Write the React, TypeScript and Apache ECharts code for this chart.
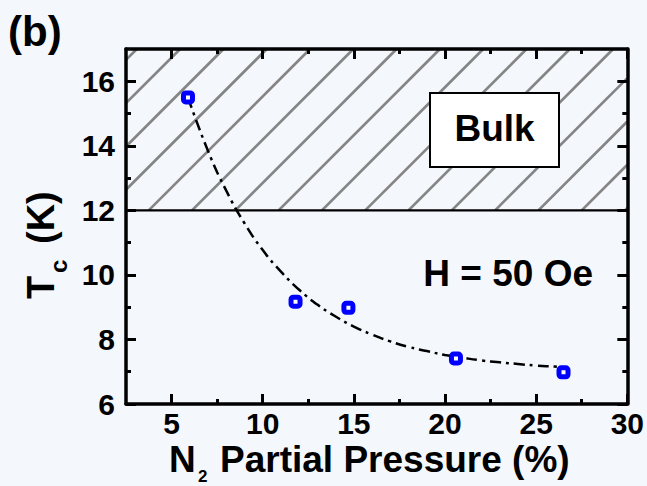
import React, { useEffect, useRef } from "react";
import * as echarts from "echarts";

// ---- data ----
const pressure = [5.9, 11.8, 14.7, 20.6, 26.5]; // N2 partial pressure (%)
const tc = [15.5, 9.17, 8.98, 7.41, 6.98]; // Tc (K)

// dash-dot guide curve
const fitX = [5.9, 7, 8, 9, 10, 11, 12, 13, 14, 15, 16, 17, 18, 19, 20, 21, 22, 23, 24, 25, 26, 26.5];
const fitY = [15.5, 13.84, 12.61, 11.6, 10.77, 10.1, 9.54, 9.08, 8.71, 8.4, 8.15, 7.94, 7.77, 7.64, 7.52, 7.43, 7.35, 7.29, 7.24, 7.19, 7.16, 7.14];

const xRange = [2.5, 30];
const yRange = [6, 17];
const xTicksMajor = [5, 10, 15, 20, 25, 30];
const xTicksMinor = [7.5, 12.5, 17.5, 22.5, 27.5];
const yTicksMajor = [6, 8, 10, 12, 14, 16];
const yTicksMinor = [7, 9, 11, 13, 15];
const bulkTc = 12; // bulk region starts here

const FONT = "'Liberation Sans', Arial, Helvetica, sans-serif";
const BG = "#f4f7fc";

export default function App() {
  const ref = useRef<HTMLDivElement>(null);

  useEffect(() => {
    if (!ref.current) return;
    const chart = echarts.init(ref.current, null, { renderer: "svg" });

    const axisLine = { show: true, onZero: false, lineStyle: { color: "#000", width: 3.5 } };
    const labelStyle = { color: "#000", fontSize: 30, fontWeight: "bold" as const, fontFamily: FONT };

    const mkX = (pos: "bottom" | "top", ticks: number[], len: number, labels: boolean, line: boolean) => ({
      type: "value",
      min: xRange[0],
      max: xRange[1],
      position: pos,
      z: 10,
      axisLine: line ? axisLine : { show: false },
      axisTick: { show: true, inside: true, length: len, customValues: ticks, lineStyle: { color: "#000", width: 3 } },
      axisLabel: labels ? { show: true, margin: 4, customValues: ticks, ...labelStyle } : { show: false },
      splitLine: { show: false },
    });
    const mkY = (pos: "left" | "right", ticks: number[], len: number, labels: boolean, line: boolean) => ({
      type: "value",
      min: yRange[0],
      max: yRange[1],
      position: pos,
      z: 10,
      axisLine: line ? axisLine : { show: false },
      axisTick: { show: true, inside: true, length: len, customValues: ticks, lineStyle: { color: "#000", width: 3 } },
      axisLabel: labels ? { show: true, margin: 11, customValues: ticks, ...labelStyle } : { show: false },
      splitLine: { show: false },
    });

    const hatchSeries = {
      type: "custom",
      xAxisIndex: 0,
      yAxisIndex: 0,
      z: 1,
      silent: true,
      data: [[xRange[0], bulkTc, xRange[1], yRange[1]]],
      encode: { x: [0, 2], y: [1, 3] },
      renderItem: (params: any, api: any) => {
        const p0 = api.coord([api.value(0), api.value(3)]); // top-left
        const p1 = api.coord([api.value(2), api.value(1)]); // bottom-right
        const x0 = p0[0], y0 = p0[1], x1 = p1[0], y1 = p1[1];
        const h = y1 - y0;
        const sp = 43.3;
        const phase = 22.7;
        const children: any[] = [];
        const nMin = -Math.ceil(h / sp) - 2;
        const nMax = Math.ceil((x1 - x0) / sp) + 2;
        for (let i = nMin; i <= nMax; i++) {
          const bx = x0 + phase + i * sp;
          const tmin = Math.max(0, x0 - bx);
          const tmax = Math.min(h, x1 - bx);
          if (tmin < tmax) {
            children.push({
              type: "line",
              shape: { x1: bx + tmin, y1: y1 - tmin, x2: bx + tmax, y2: y1 - tmax },
              style: { stroke: "#858585", lineWidth: 2.7 },
            });
          }
        }
        children.push({
          type: "line",
          shape: { x1: x0, y1: y1, x2: x1, y2: y1 },
          style: { stroke: "#000", lineWidth: 2.2 },
        });
        return { type: "group", children };
      },
    };

    chart.setOption({
      animation: false,
      backgroundColor: BG,
      grid: { left: 126, right: 19, top: 49, bottom: 82, containLabel: false },
      xAxis: [
        mkX("bottom", xTicksMajor, 10, true, true),
        mkX("bottom", xTicksMinor, 5, false, false),
        mkX("top", xTicksMajor, 10, false, true),
        mkX("top", xTicksMinor, 5, false, false),
      ],
      yAxis: [
        mkY("left", yTicksMajor, 10, true, true),
        mkY("left", yTicksMinor, 5, false, false),
        mkY("right", yTicksMajor, 10, false, true),
        mkY("right", yTicksMinor, 5, false, false),
      ],
      series: [
        hatchSeries,
        {
          type: "line",
          xAxisIndex: 0,
          yAxisIndex: 0,
          z: 3,
          smooth: true,
          symbol: "none",
          data: fitX.map((x, i) => [x, fitY[i]]),
          lineStyle: { color: "#000", width: 2.5, type: [11, 5, 3, 5] },
        },
        {
          type: "scatter",
          xAxisIndex: 0,
          yAxisIndex: 0,
          z: 5,
          symbol: "roundRect",
          symbolSize: 9,
          data: pressure.map((x, i) => [x, tc[i]]),
          itemStyle: { color: "#ffffff", borderColor: "#0000ff", borderWidth: 5, opacity: 1 },
        },
      ],
      graphic: [
        {
          type: "text",
          left: 8,
          top: 10,
          z: 20,
          style: { text: "(b)", fill: "#000", font: `bold 42px ${FONT}` },
        },
        {
          type: "rect",
          z: 20,
          shape: { x: 430, y: 93, width: 129, height: 74 },
          style: { fill: "#ffffff", stroke: "#000", lineWidth: 2 },
        },
        {
          type: "text",
          z: 21,
          x: 494.5,
          y: 128.5,
          style: { text: "Bulk", fill: "#000", font: `bold 37px ${FONT}`, align: "center", verticalAlign: "middle" },
        },
        {
          type: "text",
          z: 21,
          x: 593,
          y: 273,
          style: { text: "H = 50 Oe", fill: "#000", font: `bold 37px ${FONT}`, align: "right", verticalAlign: "middle" },
        },
        // x-axis title
        {
          type: "text",
          z: 21,
          x: 169,
          y: 459,
          style: { text: "N", fill: "#000", font: `bold 37px ${FONT}`, align: "left", verticalAlign: "middle" },
        },
        {
          type: "text",
          z: 21,
          x: 198,
          y: 476.5,
          style: { text: "2", fill: "#000", font: `bold 17px ${FONT}`, align: "left", verticalAlign: "middle" },
        },
        {
          type: "text",
          z: 21,
          x: 220,
          y: 459,
          style: { text: "Partial Pressure (%)", fill: "#000", font: `bold 37px ${FONT}`, align: "left", verticalAlign: "middle" },
        },
        // y-axis title
        {
          type: "text",
          z: 21,
          x: 41,
          y: 299,
          rotation: Math.PI / 2,
          style: { text: "T", fill: "#000", font: `bold 38px ${FONT}`, align: "left", verticalAlign: "middle" },
        },
        {
          type: "text",
          z: 21,
          x: 58,
          y: 273,
          rotation: Math.PI / 2,
          style: { text: "c", fill: "#000", font: `bold 24px ${FONT}`, align: "left", verticalAlign: "middle" },
        },
        {
          type: "text",
          z: 21,
          x: 41,
          y: 244,
          rotation: Math.PI / 2,
          style: { text: "(K)", fill: "#000", font: `bold 38px ${FONT}`, align: "left", verticalAlign: "middle" },
        },
      ],
    });

    return () => chart.dispose();
  }, []);

  return (
    <div
      ref={ref}
      style={{ position: "fixed", left: 0, top: 0, width: 647, height: 486, background: BG }}
    />
  );
}
